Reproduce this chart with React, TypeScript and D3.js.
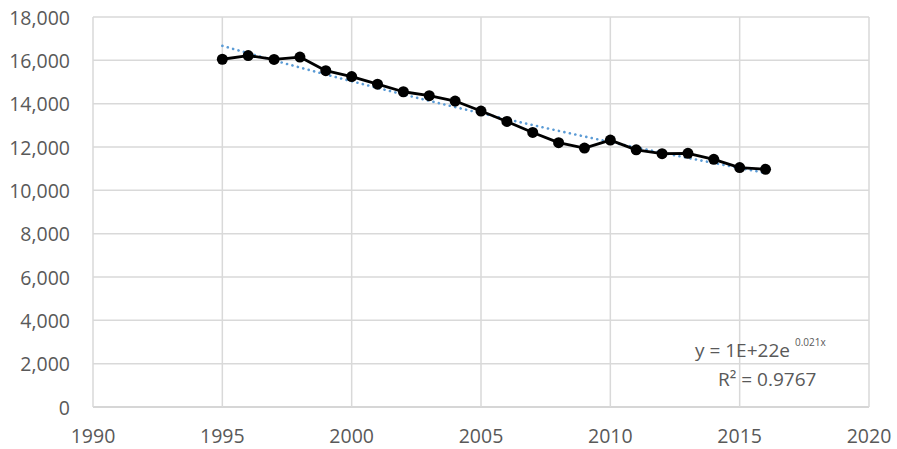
import React, { useRef, useEffect } from 'react';
import * as d3 from 'd3';

const YEARS = [1995, 1996, 1997, 1998, 1999, 2000, 2001, 2002, 2003, 2004, 2005, 2006, 2007, 2008, 2009, 2010, 2011, 2012, 2013, 2014, 2015, 2016];
const VALUES = [16050, 16220, 16040, 16150, 15520, 15250, 14900, 14550, 14370, 14120, 13660, 13180, 12670, 12200, 11950, 12320, 11870, 11690, 11710, 11430, 11050, 10970];
const X_TICKS = [1990, 1995, 2000, 2005, 2010, 2015, 2020];
const Y_TICKS = [0, 2000, 4000, 6000, 8000, 10000, 12000, 14000, 16000, 18000];
const EQ_MAIN = 'y = 1E+22e';
const EQ_EXP = '0.021x';
const R2_LABEL = 'R² = 0.9767';

export default function App() {
  const svgRef = useRef<SVGSVGElement>(null);

  useEffect(() => {
    if (!svgRef.current) return;
    const width = 897, height = 449;
    const margin = { top: 17, right: 28, bottom: 42, left: 93 };
    const svg = d3.select(svgRef.current);
    svg.selectAll('*').remove();
    const font = '"Open Sans", sans-serif';
    const x = d3.scaleLinear().domain([1990, 2020]).range([margin.left, width - margin.right]);
    const y = d3.scaleLinear().domain([0, 18000]).range([height - margin.bottom, margin.top]);

    // grid
    Y_TICKS.forEach((t) => {
      svg.append('line').attr('x1', x(1990)).attr('x2', x(2020)).attr('y1', y(t)).attr('y2', y(t))
        .attr('stroke', t === 0 ? '#c8c8c8' : '#d9d9d9').attr('stroke-width', 1.5);
      svg.append('text').attr('x', 70).attr('y', y(t)).attr('text-anchor', 'end').attr('dominant-baseline', 'central')
        .attr('fill', '#595959').attr('font-family', font).attr('font-size', '19.5px').text(d3.format(',')(t));
    });
    X_TICKS.forEach((t) => {
      svg.append('line').attr('x1', x(t)).attr('x2', x(t)).attr('y1', y(0)).attr('y2', y(18000))
        .attr('stroke', '#d9d9d9').attr('stroke-width', 1.5);
      svg.append('text').attr('x', x(t)).attr('y', 443).attr('text-anchor', 'middle')
        .attr('fill', '#595959').attr('font-family', font).attr('font-size', '19.5px').text(t);
    });

    // exponential trendline (least squares on ln y)
    const lnV = VALUES.map((v) => Math.log(v));
    const mx = d3.mean(YEARS)!, my = d3.mean(lnV)!;
    const b = d3.sum(YEARS, (yr, i) => (yr - mx) * (lnV[i] - my)) / d3.sum(YEARS, (yr) => (yr - mx) ** 2);
    const a = my - b * mx;
    const trend = d3.range(YEARS[0], YEARS[YEARS.length - 1] + 0.01, 0.25).map((yr) => [yr, Math.exp(a + b * yr)] as [number, number]);
    svg.append('path').attr('d', d3.line<[number, number]>().x((d) => x(d[0])).y((d) => y(d[1]))(trend))
      .attr('fill', 'none').attr('stroke', '#5b9bd5').attr('stroke-width', 2.6)
      .attr('stroke-linecap', 'round').attr('stroke-dasharray', '0.1,5.5');

    const pts = YEARS.map((yr, i) => [yr, VALUES[i]] as [number, number]);
    svg.append('path').attr('d', d3.line<[number, number]>().x((d) => x(d[0])).y((d) => y(d[1]))(pts))
      .attr('fill', 'none').attr('stroke', '#000').attr('stroke-width', 2.8).attr('stroke-linejoin', 'round');
    svg.selectAll('.pt').data(pts).enter().append('circle').attr('class', 'pt')
      .attr('cx', (d) => x(d[0])).attr('cy', (d) => y(d[1])).attr('r', 5.5).attr('fill', '#000');

    // equation
    const eq = svg.append('text').attr('x', 695).attr('y', 357).attr('fill', '#595959')
      .attr('font-family', font).attr('font-size', '19px');
    eq.append('tspan').text(EQ_MAIN);
    eq.append('tspan').attr('dx', 5).attr('dy', -11).attr('font-size', '10px').text(EQ_EXP);
    svg.append('text').attr('x', 718).attr('y', 386).attr('fill', '#595959')
      .attr('font-family', font).attr('font-size', '19px').text(R2_LABEL);
  }, []);

  return (
    <svg ref={svgRef} width={897} height={449} style={{ position: 'absolute', left: 0, top: 0, background: '#fff' }} />
  );
}
